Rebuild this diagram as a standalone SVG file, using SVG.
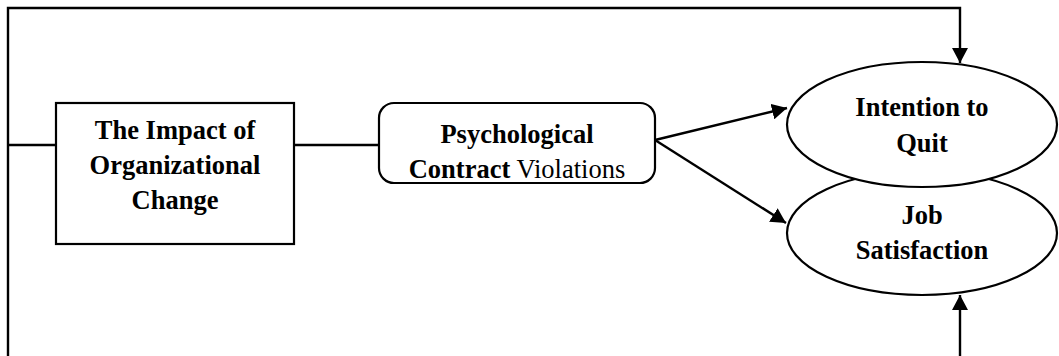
<svg xmlns="http://www.w3.org/2000/svg" width="1059" height="356" viewBox="0 0 1059 356">
<style>
.shape{fill:#fff;stroke:#000;stroke-width:2.2}
.conn{fill:none;stroke:#000;stroke-width:2.4}
text{font-family:"Liberation Serif","Times New Roman",serif;font-size:26.5px;fill:#000;text-anchor:middle}
.b{font-weight:bold}
</style>
<defs>
<marker id="arr" viewBox="0 0 15 16" refX="15" refY="8" markerWidth="15" markerHeight="16" markerUnits="userSpaceOnUse" orient="auto">
<path d="M0,0 L15,8 L0,16 Z" fill="#000"/>
</marker>
</defs>
<g id="connectors">
<path class="conn" d="M8,356 L8,8 L960,8 L960,63" marker-end="url(#arr)"/>
<path class="conn" d="M8,145 L56,145"/>
<path class="conn" d="M294,145 L379,145"/>
<path class="conn" d="M655,140 L787,108" marker-end="url(#arr)"/>
<path class="conn" d="M655,140 L786,223" marker-end="url(#arr)"/>
<path class="conn" d="M960,356 L960,295" marker-end="url(#arr)"/>
</g>
<g id="impact">
<rect class="shape" x="56" y="103" width="238" height="141"/>
<text class="b" x="175" y="139">The Impact of</text>
<text class="b" x="175" y="174">Organizational</text>
<text class="b" x="175" y="209">Change</text>
</g>
<g id="pcv">
<rect class="shape" x="379" y="103" width="276" height="80" rx="15" ry="15"/>
<text x="517" y="143" class="b">Psychological</text>
<text x="517" y="178"><tspan class="b">Contract</tspan> Violations</text>
</g>
<g id="job">
<ellipse class="shape" cx="922" cy="233" rx="135" ry="62"/>
<text class="b" x="922" y="224">Job</text>
<text class="b" x="922" y="259">Satisfaction</text>
</g>
<g id="quit">
<ellipse class="shape" cx="922" cy="124.5" rx="135" ry="62.5"/>
<text class="b" x="922" y="116">Intention to</text>
<text class="b" x="922" y="152">Quit</text>
</g>
</svg>
